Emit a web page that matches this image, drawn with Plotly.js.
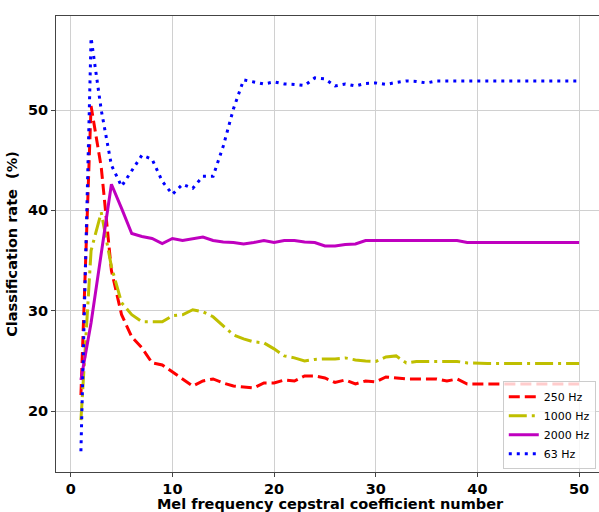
<!DOCTYPE html>
<html>
<head>
<meta charset="utf-8">
<script src="https://cdn.plot.ly/plotly-3.0.1.min.js"></script>
<style>
html,body{margin:0;padding:0;overflow:hidden;background:#fff;}
#chart{width:610px;height:512px;}
</style>
</head>
<body>
<div id="chart"></div>
<script>
const mfcc = Array.from({length: 50}, (_, i) => i + 1);
const seriesNames = ["250 Hz", "1000 Hz", "2000 Hz", "63 Hz"];
const hz250 = [21.6, 50.4, 44.3, 34.0, 29.6, 27.4, 26.3, 24.8, 24.6, 23.9,
  23.2, 22.5, 23.0, 23.2, 22.8, 22.5, 22.4, 22.3, 22.8, 22.8,
  23.1, 23.0, 23.5, 23.5, 23.3, 22.85, 23.1, 22.7, 23.0, 22.9,
  23.4, 23.3, 23.2, 23.2, 23.2, 23.2, 23.0, 23.2, 22.7, 22.7,
  22.7, 22.7, 22.7, 22.7, 22.7, 22.7, 22.7, 22.7, 22.7, 22.7];
const hz1000 = [19.1, 36.0, 39.8, 34.4, 30.8, 29.6, 28.9, 28.9, 28.9, 29.5,
  29.6, 30.1, 29.9, 29.4, 28.5, 27.6, 27.2, 26.9, 26.8, 26.2,
  25.5, 25.3, 25.0, 25.15, 25.2, 25.2, 25.3, 25.1, 25.0, 24.95,
  25.4, 25.5, 24.8, 24.95, 24.95, 24.95, 24.95, 24.95, 24.8, 24.75,
  24.75, 24.75, 24.75, 24.75, 24.75, 24.75, 24.75, 24.75, 24.75, 24.75];
const hz2000 = [23.1, 28.8, 35.7, 42.6, 40.2, 37.7, 37.4, 37.2, 36.7, 37.2,
  37.0, 37.2, 37.35, 37.0, 36.85, 36.8, 36.65, 36.8, 37.0, 36.8,
  37.0, 37.0, 36.85, 36.8, 36.45, 36.45, 36.6, 36.65, 37.0, 37.0,
  37.0, 37.0, 37.0, 37.0, 37.0, 37.0, 37.0, 37.0, 36.8, 36.8,
  36.8, 36.8, 36.8, 36.8, 36.8, 36.8, 36.8, 36.8, 36.8, 36.8];
const hz63 = [16.0, 57.2, 50.0, 44.5, 42.4, 44.0, 45.5, 45.1, 42.9, 41.6,
  42.6, 42.2, 43.4, 43.4, 46.4, 50.1, 53.0, 52.8, 52.6, 52.8,
  52.6, 52.55, 52.45, 53.2, 53.1, 52.4, 52.6, 52.4, 52.65, 52.7,
  52.55, 52.75, 52.9, 52.85, 52.7, 52.9, 52.9, 52.9, 52.9, 52.9,
  52.9, 52.9, 52.9, 52.9, 52.9, 52.9, 52.9, 52.9, 52.9, 52.9];
const xTicks = [0, 10, 20, 30, 40, 50];
const yTicks = [20, 30, 40, 50];

const styles = [
  {color: "#ff0000", dash: "11px,5px"},
  {color: "#bfbf00", dash: "18px,5px,3px,5px"},
  {color: "#bf00bf", dash: "solid"},
  {color: "#0000ff", dash: "3px,5px"}
];
const ys = [hz250, hz1000, hz2000, hz63];
const traces = ys.map((y, i) => ({
  x: mfcc, y: y, type: "scatter", mode: "lines", name: seriesNames[i],
  line: {color: styles[i].color, width: 3, dash: styles[i].dash}
}));

const font = {family: "DejaVu Sans, sans-serif", color: "#000"};
const bold = (s) => Object.assign({size: s, weight: "bold"}, font);
const layout = {
  width: 610, height: 512,
  margin: {l: 56, r: 6, t: 16, b: 40},
  paper_bgcolor: "#fff", plot_bgcolor: "#fff",
  showlegend: true,
  xaxis: {
    range: [-1.45, 52.45], tickvals: xTicks, ticktext: xTicks.map(String),
    showgrid: true, gridcolor: "#d0d0d0", gridwidth: 1, zeroline: false,
    showline: true, linecolor: "#444", linewidth: 1, mirror: true,
    ticks: "outside", ticklen: 4, tickcolor: "#444",
    tickfont: bold(14.5),
    title: {text: "Mel frequency cepstral coefficient number", font: bold(14.5)},
    automargin: false
  },
  yaxis: {
    range: [13.93, 59.37], tickvals: yTicks, ticktext: yTicks.map(String),
    showgrid: true, gridcolor: "#d0d0d0", gridwidth: 1, zeroline: false,
    showline: true, linecolor: "#444", linewidth: 1, mirror: true,
    ticks: "outside", ticklen: 4, tickcolor: "#444",
    tickfont: bold(14.5),
    title: {text: "Classification rate\u00a0 (%)", font: bold(14.5)},
    automargin: false
  },
  legend: {
    x: 0.985, xanchor: "right", y: 0.006, yanchor: "bottom",
    bgcolor: "rgba(255,255,255,0.8)", bordercolor: "#cccccc", borderwidth: 1,
    font: {family: "DejaVu Sans, sans-serif", size: 11, color: "#000"},
    tracegroupgap: 0, itemwidth: 30
  }
};
Plotly.newPlot("chart", traces, layout, {displayModeBar: false, staticPlot: true});
</script>
</body>
</html>
